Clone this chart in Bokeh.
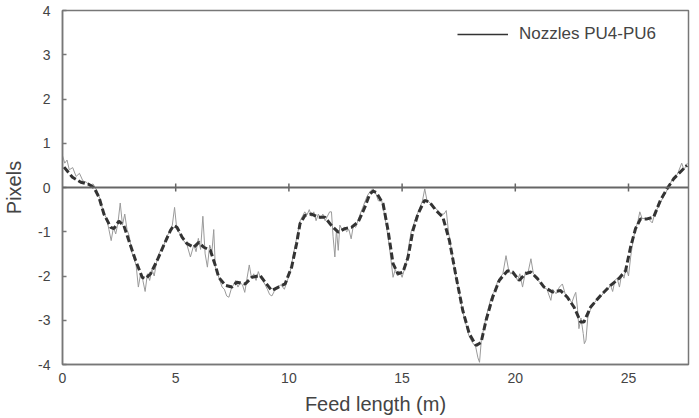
import numpy as np
from bokeh.plotting import figure
from bokeh.models import Range1d, FixedTicker, Span, Legend, LegendItem, PrintfTickFormatter
from bokeh.embed import file_html
from bokeh.resources import INLINE

# Smoothed (dashed) curve
smooth_x = [0.07, 0.44, 0.81, 1.17, 1.39, 1.61, 1.83, 2.13, 2.27, 2.49, 2.71, 2.93, 3.23, 3.52, 3.67,
            3.89, 4.18, 4.47, 4.77, 4.91, 5.06, 5.28, 5.5, 5.8, 6.02, 6.24, 6.53, 6.75, 6.9, 7.19,
            7.48, 7.7, 8.07, 8.36, 8.73, 8.95, 9.24, 9.54, 9.83, 10.12, 10.34, 10.49, 10.71, 11.0,
            11.3, 11.59, 11.88, 12.18, 12.47, 12.76, 13.06, 13.35, 13.57, 13.72, 13.86, 14.16, 14.38,
            14.6, 14.82, 15.04, 15.26, 15.48, 15.7, 15.99, 16.21, 16.5, 16.8, 17.09, 17.39, 17.68,
            17.97, 18.27, 18.49, 18.71, 19.0, 19.29, 19.66, 19.88, 20.17, 20.44, 20.69, 20.98, 21.27,
            21.64, 22.0, 22.3, 22.59, 22.89, 23.03, 23.33, 23.77, 24.21, 24.57, 24.87, 25.09, 25.31,
            25.53, 25.82, 26.11, 26.41, 26.7, 27.0, 27.29, 27.58]
smooth_y = [0.46, 0.23, 0.12, 0.07, 0.0, -0.22, -0.6, -0.9, -0.93, -0.76, -0.86, -1.2, -1.65, -2.03, -2.06,
            -1.95, -1.65, -1.31, -0.97, -0.86, -0.9, -1.12, -1.27, -1.35, -1.24, -1.35, -1.42, -1.76, -2.03, -2.21,
            -2.25, -2.14, -2.18, -2.03, -1.99, -2.14, -2.33, -2.25, -2.18, -1.8, -1.27, -0.82, -0.63, -0.6,
            -0.67, -0.67, -0.86, -1.01, -0.93, -0.9, -0.78, -0.45, -0.15, -0.08, -0.11, -0.37, -0.97,
            -1.72, -1.95, -1.91, -1.58, -0.97, -0.6, -0.29, -0.33, -0.52, -0.67, -1.2, -2.03, -2.78,
            -3.31, -3.57, -3.5, -3.0, -2.48, -2.1, -1.88, -1.91, -2.1, -1.95, -1.91, -2.06, -2.25,
            -2.36, -2.33, -2.48, -2.7, -3.04, -3.04, -2.7, -2.44, -2.21, -2.06, -1.88, -1.35, -0.93,
            -0.71, -0.71, -0.67, -0.29, -0.03, 0.2, 0.35, 0.5]

# Raw (thin grey) measurement
raw_x = [0.0, 0.1, 0.2, 0.3, 0.45, 0.6, 0.75, 0.9, 1.05, 1.2, 1.35, 1.5, 1.65, 1.8, 1.95, 2.05, 2.15,
         2.25, 2.35, 2.45, 2.55, 2.65, 2.75, 2.85, 2.95, 3.05, 3.15, 3.25, 3.35, 3.45, 3.55, 3.65, 3.75,
         3.85, 3.95, 4.05, 4.15, 4.3, 4.45, 4.6, 4.75, 4.85, 4.95, 5.05, 5.2, 5.35, 5.5, 5.65, 5.8, 5.9,
         6.0, 6.1, 6.2, 6.3, 6.4, 6.5, 6.6, 6.68, 6.75, 6.85, 6.95, 7.05, 7.15, 7.25, 7.35, 7.45, 7.55,
         7.65, 7.75, 7.85, 7.95, 8.05, 8.15, 8.25, 8.35, 8.45, 8.55, 8.65, 8.75, 8.85, 8.95, 9.05, 9.15,
         9.25, 9.35, 9.5, 9.65, 9.8, 9.9, 10.0, 10.1, 10.2, 10.3, 10.4, 10.5, 10.6, 10.7, 10.8, 10.9,
         11.0, 11.1, 11.2, 11.3, 11.4, 11.5, 11.6, 11.7, 11.8, 11.88, 11.95, 12.03, 12.1, 12.18, 12.25,
         12.35, 12.45, 12.55, 12.65, 12.75, 12.85, 12.95, 13.05, 13.15, 13.3, 13.45, 13.6, 13.72, 13.85,
         13.95, 14.1, 14.2, 14.3, 14.4, 14.5, 14.6, 14.7, 14.8, 14.9, 15.0, 15.1, 15.2, 15.3, 15.4, 15.5,
         15.6, 15.75, 15.9, 16.0, 16.1, 16.25, 16.4, 16.55, 16.7, 16.85, 16.95, 17.05, 17.2, 17.35, 17.5,
         17.65, 17.8, 17.95, 18.1, 18.25, 18.35, 18.42, 18.5, 18.6, 18.7, 18.8, 18.9, 19.0, 19.1, 19.2,
         19.3, 19.45, 19.59, 19.7, 19.8, 19.9, 20.0, 20.1, 20.2, 20.32, 20.45, 20.55, 20.69, 20.8, 20.9,
         21.0, 21.1, 21.25, 21.4, 21.5, 21.57, 21.65, 21.8, 21.95, 22.08, 22.2, 22.35, 22.5, 22.6, 22.67,
         22.75, 22.81, 22.9, 23.0, 23.05, 23.12, 23.2, 23.35, 23.5, 23.65, 23.8, 23.95, 24.1, 24.2, 24.3,
         24.4, 24.5, 24.6, 24.7, 24.8, 24.9, 25.0, 25.1, 25.2, 25.3, 25.4, 25.5, 25.6, 25.75, 25.9, 26.05,
         26.15, 26.3, 26.45, 26.6, 26.75, 26.9, 27.05, 27.2, 27.35, 27.45, 27.6]
raw_y = [0.72, 0.55, 0.62, 0.40, 0.45, 0.25, 0.32, 0.15, 0.12, 0.05, 0.08, -0.05, -0.25, -0.55, -0.70, -0.95, -1.2,
         -0.9, -1.05, -0.8, -0.35, -0.85, -0.6, -0.95, -1.1, -1.45, -1.6, -1.75, -2.25, -1.95, -2.1, -2.35, -1.95,
         -2.1, -1.85, -2.0, -1.7, -1.45, -1.35, -1.1, -1.0, -0.85, -0.45, -0.95, -1.05, -1.2, -1.3, -1.57, -1.3, -1.45,
         -1.15, -1.4, -0.65, -1.5, -1.8, -1.3, -1.45, -0.95, -1.8, -1.95, -2.1, -2.25, -2.3, -2.45, -2.48, -2.3, -2.2,
         -2.1, -2.25, -2.15, -2.2, -2.37, -2.05, -1.75, -2.05, -1.95, -2.1, -1.9, -2.05, -2.1, -2.2, -2.3, -2.42,
         -2.45, -2.35, -2.25, -2.2, -2.3, -2.15, -2.0, -1.8, -1.5, -1.25, -1.0, -0.75, -0.65, -0.55, -0.62, -0.5,
         -0.65, -0.55, -0.75, -0.6, -0.7, -0.6, -0.75, -0.65, -0.55, -0.55, -1.1, -1.57, -0.95, -1.42, -0.85,
         -0.95, -0.9, -1.0, -0.95, -1.16, -0.85, -0.9, -0.75, -0.6, -0.4, -0.2, -0.08, -0.03, -0.15,
         -0.3, -0.3, -0.55, -0.85, -1.2, -1.6, -2.03, -1.85, -2.0, -1.9, -2.03, -1.85, -1.65, -1.3, -1.0, -0.85,
         -0.7, -0.5, -0.3, -0.03, -0.3, -0.35, -0.45, -0.5, -0.6, -0.6, -0.52, -1.0, -1.5, -1.95, -2.3,
         -2.75, -3.05, -3.35, -3.5, -3.6, -3.85, -3.95, -3.45, -3.2, -2.95, -2.75, -2.55, -2.4, -2.35, -2.15,
         -2.05, -1.95, -1.54, -1.85, -1.95, -1.9, -2.0, -2.1, -1.95, -2.25, -1.9, -1.95, -1.61, -1.95, -2.0,
         -2.1, -2.15, -2.25, -2.3, -2.45, -2.55, -2.3, -2.4, -2.25, -2.18, -2.4, -2.5, -2.6, -2.45, -2.37,
         -2.75, -3.19, -2.95, -3.3, -3.53, -3.45, -2.95, -2.7, -2.6, -2.5, -2.45, -2.35, -2.3, -2.2, -2.35,
         -2.1, -2.05, -2.25, -1.95, -2.05, -1.8, -2.0, -1.55, -1.2, -0.95, -0.8, -0.55, -0.7, -0.7, -0.72, -0.8,
         -0.6, -0.45, -0.3, -0.15, -0.02, 0.15, 0.2, 0.35, 0.55, 0.4, 0.55]

x_ticks = [0, 5, 10, 15, 20, 25]
y_ticks = [-4, -3, -2, -1, 0, 1, 2, 3, 4]
legend_label = "Nozzles PU4-PU6"
x_title = "Feed length (m)"
y_title = "Pixels"

FONT = "Liberation Sans"
TXT = "#444444"
AX = "#777777"

p = figure(width=699, height=418, output_backend="svg", toolbar_location=None,
           x_range=Range1d(0, 27.65), y_range=Range1d(-4, 4),
           min_border_left=60, min_border_right=11, min_border_top=10, min_border_bottom=54)
p.background_fill_color = "white"
p.border_fill_color = "white"
p.outline_line_color = AX
p.outline_line_width = 1.5
p.xgrid.visible = False
p.ygrid.visible = False

p.xaxis.ticker = FixedTicker(ticks=x_ticks)
p.yaxis.ticker = FixedTicker(ticks=y_ticks)
for ax in (p.xaxis[0], p.yaxis[0]):
    ax.formatter = PrintfTickFormatter(format="%d")
    ax.axis_line_color = AX
    ax.axis_line_width = 1.5
    ax.major_label_text_font = FONT
    ax.major_label_text_font_size = "14px"
    ax.major_label_text_color = TXT
    ax.axis_label_text_font = FONT
    ax.axis_label_text_font_size = "20px"
    ax.axis_label_text_font_style = "normal"
    ax.axis_label_text_color = TXT
    ax.minor_tick_line_color = None
    ax.minor_tick_in = 0
    ax.minor_tick_out = 0
p.xaxis.major_tick_line_color = None
p.xaxis.major_tick_in = 0
p.xaxis.major_tick_out = 0
p.xaxis.major_label_standoff = 8
p.xaxis.axis_label = x_title
p.xaxis.axis_label_standoff = 7
p.yaxis.major_tick_in = 4
p.yaxis.major_tick_out = 0
p.yaxis.major_tick_line_color = AX
p.yaxis.major_tick_line_width = 1.5
p.yaxis.major_label_standoff = 12
p.yaxis.axis_label = y_title
p.yaxis.axis_label_standoff = 10

# zero line with tick marks
p.add_layout(Span(location=0, dimension="width", line_color="#666666", line_width=2))
p.scatter(x=x_ticks[1:], y=[0] * (len(x_ticks) - 1), marker="dash", angle=np.pi / 2,
          size=8, line_color="#666666", line_width=1.5)

p.line(raw_x, raw_y, line_color="#9a9a9a", line_width=1)
p.line(smooth_x, smooth_y, line_color="#333333", line_width=3, line_dash="7 3")

# legend key: a one-point line (draws nothing in the plot, only its legend glyph)
leg_r = p.line(raw_x[:1], raw_y[:1], line_color="#333333", line_width=1.3)
legend = Legend(items=[LegendItem(label=legend_label, renderers=[leg_r], index=0)],
                location=(395, 320), border_line_color=None, background_fill_alpha=0,
                padding=0, margin=0, glyph_width=51, label_standoff=11,
                label_text_font=FONT, label_text_font_size="17px", label_text_color=TXT)
p.add_layout(legend)

open("out.html", "w").write(file_html(p, INLINE))
